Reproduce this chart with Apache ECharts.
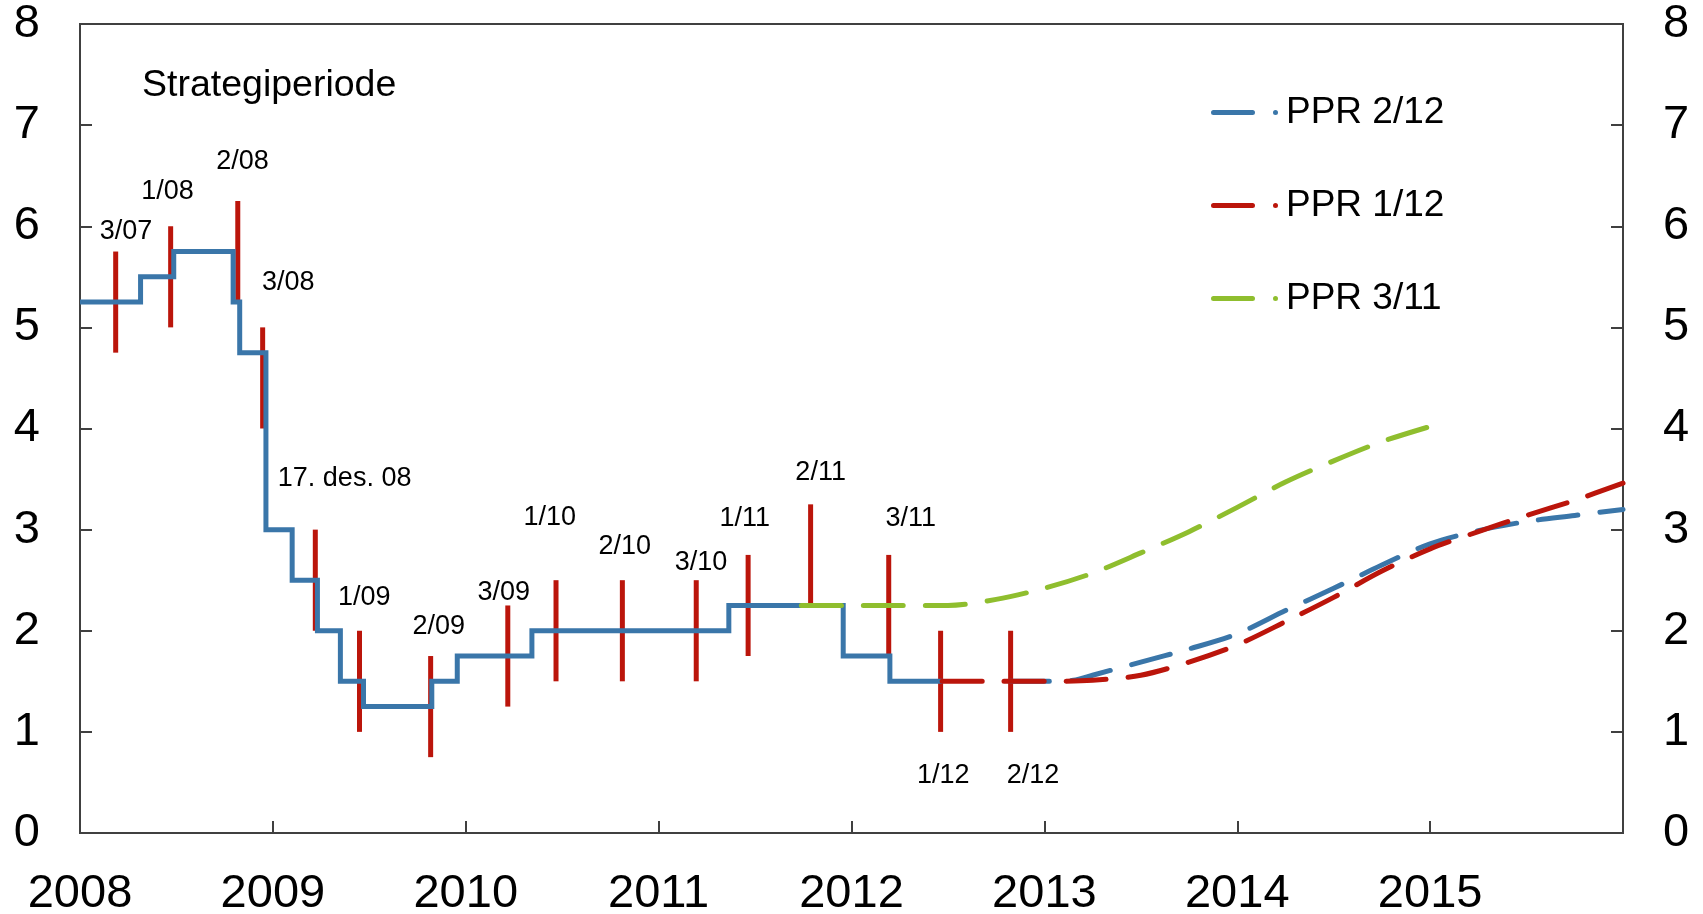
<!DOCTYPE html>
<html>
<head>
<meta charset="utf-8">
<script src="https://cdn.jsdelivr.net/npm/echarts@6/dist/echarts.min.js"></script>
<style>html,body{margin:0;padding:0;background:#fff}#c{width:1703px;height:914px}</style>
</head>
<body>
<div id="c"></div>
<script>
// Policy rate (step line): [change date (decimal year), new rate]
const rateDates = [2008.0, 2008.314, 2008.486, 2008.794, 2008.828, 2008.964, 2009.100, 2009.231, 2009.350, 2009.470, 2009.824, 2009.956, 2010.343, 2011.364, 2011.957, 2012.199, 2012.474];
const rateValues = [5.25, 5.5, 5.75, 5.25, 4.75, 3.0, 2.5, 2.0, 1.5, 1.25, 1.5, 1.75, 2.0, 2.25, 1.75, 1.5, 1.5];

// Strategy-period intervals (red bars)
const barDates = [2008.185, 2008.470, 2008.818, 2008.947, 2009.220, 2009.449, 2009.818, 2010.218, 2010.468, 2010.812, 2011.195, 2011.464, 2011.788, 2012.193, 2012.462, 2012.825];
const barLow  = [4.75, 5.0, 5.25, 4.0, 2.0, 1.0, 0.75, 1.25, 1.5, 1.5, 1.5, 1.75, 2.25, 1.75, 1.0, 1.0];
const barHigh = [5.75, 6.0, 6.25, 5.0, 3.0, 2.0, 1.75, 2.25, 2.5, 2.5, 2.5, 2.75, 3.25, 2.75, 2.0, 2.0];

// Annotation labels (anchored in data coordinates)
const annText = ['3/07', '1/08', '2/08', '3/08', '17. des. 08', '1/09', '2/09', '3/09', '1/10', '2/10', '3/10', '1/11', '2/11', '3/11', '1/12', '2/12'];
const annX = [2008.238, 2008.454, 2008.842, 2009.080, 2009.372, 2009.474, 2009.860, 2010.197, 2010.435, 2010.824, 2011.220, 2011.447, 2011.840, 2012.307, 2012.476, 2012.941];
const annY = [5.95, 6.34, 6.64, 5.44, 3.51, 2.33, 2.04, 2.38, 3.12, 2.83, 2.67, 3.11, 3.56, 3.11, 0.57, 0.57];

// Forecast paths
const ppr212X = [2012.82, 2013.0, 2013.15, 2013.25, 2013.5, 2013.75, 2014.0, 2014.25, 2014.5, 2014.75, 2015.0, 2015.25, 2015.5, 2015.75, 2016.0];
const ppr212Y = [1.5, 1.5, 1.51, 1.56, 1.69, 1.82, 1.97, 2.2, 2.42, 2.65, 2.86, 2.99, 3.08, 3.14, 3.2];
const ppr112X = [2012.47, 2012.75, 2013.0, 2013.25, 2013.5, 2013.75, 2014.0, 2014.25, 2014.5, 2014.75, 2015.0, 2015.25, 2015.5, 2015.75, 2016.0];
const ppr112Y = [1.5, 1.5, 1.5, 1.51, 1.56, 1.69, 1.86, 2.09, 2.33, 2.59, 2.81, 2.98, 3.14, 3.29, 3.46];
const ppr311X = [2011.74, 2012.0, 2012.25, 2012.5, 2012.75, 2013.0, 2013.25, 2013.5, 2013.75, 2014.0, 2014.25, 2014.5, 2014.75, 2015.0];
const ppr311Y = [2.25, 2.25, 2.25, 2.25, 2.31, 2.42, 2.57, 2.77, 2.98, 3.22, 3.47, 3.68, 3.87, 4.02];

const seriesNames = ['PPR 2/12', 'PPR 1/12', 'PPR 3/11'];
const xTickYears = [2008, 2009, 2010, 2011, 2012, 2013, 2014, 2015];

const BLUE = '#3a76a9', RED = '#bb150b', GREEN = '#8fbe2e', AXIS = '#404040';
const FONT = '"Liberation Sans", Arial, sans-serif';
const zip = (a, b) => a.map((v, i) => [v, b[i]]);
// legend sample: long rounded dash followed by a small dot
const LEGEND_ICON = 'path://M2.5,0 H41.5 A2.5,2.5 0 0 1 41.5,5 H2.5 A2.5,2.5 0 0 1 2.5,0 Z M64.5,0 A2.5,2.5 0 0 1 64.5,5 A2.5,2.5 0 0 1 64.5,0 Z';

const chart = echarts.init(document.getElementById('c'), null, {renderer: 'canvas'});
const dashed = (color) => ({color, width: 5, type: [40, 22], cap: 'round', join: 'round'});
const yAxisBase = {
  type: 'value', min: 0, max: 8, interval: 1,
  axisLine: {show: true, lineStyle: {color: AXIS, width: 2}},
  axisTick: {show: true, inside: true, length: 12, lineStyle: {color: AXIS, width: 2}},
  splitLine: {show: false},
  axisLabel: {fontSize: 47, color: '#000', fontFamily: FONT, margin: 40}
};
chart.setOption({
  animation: false,
  backgroundColor: '#fff',
  title: {text: 'Strategiperiode', left: 142, top: 67, padding: 0,
    textStyle: {fontSize: 37.5, fontWeight: 'normal', color: '#000', fontFamily: FONT, lineHeight: 37}},
  grid: {left: 80, right: 80, top: 24, bottom: 81, show: true, borderColor: AXIS, borderWidth: 2,
    containLabel: false, outerBoundsMode: 'none'},
  legend: {
    orient: 'vertical', left: 1206, top: 89, itemWidth: 67, itemHeight: 14, itemGap: 56,
    icon: LEGEND_ICON,
    data: seriesNames,
    textStyle: {fontSize: 37, color: '#000', fontFamily: FONT, lineHeight: 36, padding: [0, 0, 0, 3]},
    selectedMode: false
  },
  xAxis: {
    type: 'value', min: 2008, max: 2016, interval: 1,
    axisLine: {show: true, onZero: false, lineStyle: {color: AXIS, width: 2}},
    axisTick: {show: true, inside: true, length: 12, lineStyle: {color: AXIS, width: 2}},
    splitLine: {show: false},
    axisLabel: {fontSize: 47, color: '#000', fontFamily: FONT, margin: 38,
      formatter: v => xTickYears.includes(v) ? String(v) : ''}
  },
  yAxis: [
    Object.assign({}, yAxisBase, {position: 'left'}),
    Object.assign({}, yAxisBase, {position: 'right'})
  ],
  series: [
    {
      type: 'custom', name: 'intervals', z: 2, silent: true,
      data: barDates.map((d, i) => [d, barLow[i], barHigh[i]]),
      encode: {x: 0, y: [1, 2]},
      renderItem: (params, api) => {
        const p1 = api.coord([api.value(0), api.value(1)]);
        const p2 = api.coord([api.value(0), api.value(2)]);
        return {type: 'line', shape: {x1: p1[0], y1: p1[1], x2: p2[0], y2: p2[1]},
          style: {stroke: RED, lineWidth: 5}};
      }
    },
    {
      type: 'line', name: 'Styringsrente', step: 'end', z: 3, symbol: 'none', silent: true,
      data: zip(rateDates, rateValues),
      lineStyle: {color: BLUE, width: 5, join: 'miter'}
    },
    {type: 'line', name: seriesNames[2], z: 4, symbol: 'none', smooth: 0.3, silent: true,
      data: zip(ppr311X, ppr311Y), color: GREEN, itemStyle: {color: GREEN}, lineStyle: dashed(GREEN)},
    {type: 'line', name: seriesNames[0], z: 4, symbol: 'none', smooth: 0.3, silent: true,
      data: zip(ppr212X, ppr212Y), color: BLUE, itemStyle: {color: BLUE}, lineStyle: dashed(BLUE)},
    {type: 'line', name: seriesNames[1], z: 5, symbol: 'none', smooth: 0.3, silent: true,
      data: zip(ppr112X, ppr112Y), color: RED, itemStyle: {color: RED}, lineStyle: dashed(RED)},
    {
      type: 'custom', name: 'labels', z: 6, silent: true,
      data: annX.map((x, i) => [x, annY[i]]),
      encode: {x: 0, y: 1},
      renderItem: (params, api) => {
        const p = api.coord([api.value(0), api.value(1)]);
        return {type: 'text', x: p[0], y: p[1],
          style: {text: annText[params.dataIndex], fill: '#000', font: '27px ' + FONT,
            align: 'center', verticalAlign: 'middle'}};
      }
    }
  ]
});
</script>
</body>
</html>
